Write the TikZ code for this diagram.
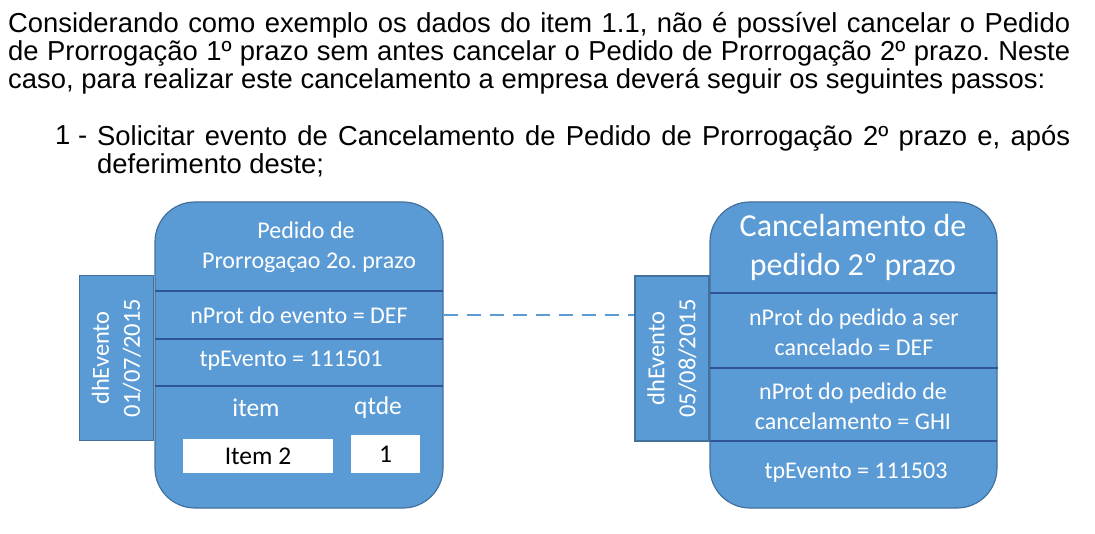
\documentclass[tikz,border=0pt]{standalone}
\usepackage{fontspec}
\setmainfont{Liberation Sans}
\newfontfamily\calibri{Carlito}
\usetikzlibrary{positioning}
\definecolor{boxfill}{RGB}{91, 155, 213}
\definecolor{boxdraw}{RGB}{65, 113, 156}
\definecolor{rowline}{RGB}{47, 85, 151}
\definecolor{linkblue}{RGB}{91, 155, 213}
\frenchspacing

\begin{document}
\begin{tikzpicture}[
    x=1pt, y=-1pt,
    bodytext/.style={
        anchor=north west, inner sep=0pt, align=justify,
        font=\fontsize{27.4}{28}\selectfont,
    },
    evbox/.style={
        rectangle, rounded corners=40pt,
        draw=boxdraw, fill=boxfill, line width=1.2pt,
        minimum height=306pt, inner sep=0pt,
    },
    datetab/.style={
        rectangle, draw=boxdraw, fill=boxfill, line width=1.2pt,
        minimum width=74pt, minimum height=165pt, inner sep=0pt,
    },
    tabtext/.style={
        rotate=90, text=white, align=center, inner sep=0pt,
        font=\calibri\fontsize{24.5}{31}\selectfont,
    },
    field/.style={
        text=white, align=center, inner sep=0pt,
        font=\calibri\fontsize{24}{30}\selectfont,
    },
    titletext/.style={
        text=white, align=center, inner sep=0pt,
        font=\calibri\fontsize{32}{39}\selectfont,
    },
    valbox/.style={
        rectangle, fill=white, inner sep=0pt,
        font=\calibri\fontsize{25.5}{28}\selectfont,
    },
    rowsep/.style={draw=rowline, line width=2.4pt},
    link/.style={draw=linkblue, line width=2.4pt, dash pattern=on 14pt off 9pt},
]
\useasboundingbox (0,0) rectangle (1095,534);

% =================================================
% Text above the diagram
% =================================================
\node[bodytext, text width=1062pt] (intro) at (8,12) {%
    Considerando como exemplo os dados do item 1.1, não é possível cancelar o Pedido\linebreak
    de Prorrogação 1º prazo sem antes cancelar o Pedido de Prorrogação 2º prazo. Neste\linebreak
    caso, para realizar este cancelamento a empresa deverá seguir os seguintes passos:};

\node[bodytext] (stepnum) at (55,125) {1 -};
\node[bodytext, text width=973pt] (steptext) at (97,125) {%
    Solicitar evento de Cancelamento de Pedido de Prorrogação 2º prazo e, após\linebreak
    deferimento deste;};

% =================================================
% LEFT: Pedido de Prorrogacao
% =================================================
\node[datetab] (ltab) at (116.5,358) {};
\node[evbox, minimum width=288pt] (lbox) at (299,355) {};

\node[tabtext] (ldate) at (ltab.center) {dhEvento\\01/07/2015};

\node[field] (ltitle) at (306,247) {Pedido de\\\hspace*{6pt}Prorrogaçao 2o. prazo};
\node[field] (lprot) at (299,315) {nProt do evento = DEF};
\node[field] (ltp) at (291,361) {tpEvento = 111501};
\node[field, font=\calibri\fontsize{25.5}{28}\selectfont] (litem) at (256,408) {item};
\node[field, font=\calibri\fontsize{25.5}{28}\selectfont] (lqtde) at (378,408) {qtde};

\node[valbox, minimum width=150pt, minimum height=34pt] (litemval) at (258,456) {Item 2};
\node[valbox, minimum width=69pt, minimum height=38pt] (lqtdeval) at (385.5,454) {1};

\draw[rowsep] (155,291) -- (443,291);
\draw[rowsep] (155,339) -- (443,339);
\draw[rowsep] (155,386) -- (443,386);

% =================================================
% RIGHT: Cancelamento de pedido
% =================================================
\node[datetab] (rtab) at (672,358.5) {};
\node[evbox, minimum width=287pt] (rbox) at (853.5,355) {};

\node[tabtext] (rdate) at (rtab.center) {dhEvento\\05/08/2015};

\node[titletext] (rtitle) at (853,247) {Cancelamento de\\pedido 2º prazo};
\node[field] (rprot) at (854,332) {nProt do pedido a ser\\cancelado = DEF};
\node[field] (rcanc) at (853,406) {nProt do pedido de\\cancelamento = GHI};
\node[field] (rtp) at (856,473) {tpEvento = 111503};

\draw[rowsep] (710,293) -- (997,293);
\draw[rowsep] (710,368) -- (998,368);
\draw[rowsep] (710,441) -- (997,441);

% =================================================
% Link between the two events
% =================================================
\draw[link] (lbox.east |- lprot.center) -- (rtab.west |- lprot.center);

\end{tikzpicture}
\end{document}
